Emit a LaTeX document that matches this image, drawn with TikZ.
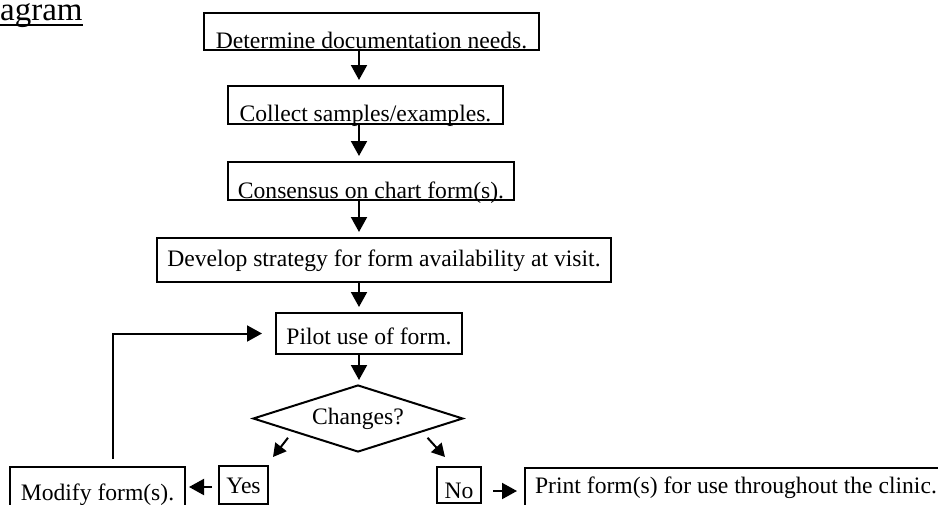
\documentclass[tikz,border=0pt]{standalone}
\usepackage{fontspec}
\setmainfont{Liberation Serif}
\usetikzlibrary{calc}
\usetikzlibrary{shapes.geometric}
\usetikzlibrary{arrows.meta}
\def\Spine{359}
\def\TextSize{\fontsize{23.6}{28}\selectfont}

\begin{document}
\begin{tikzpicture}[x=1pt,y=-1pt,
  stepbox/.style={draw, line width=2pt, inner xsep=0pt, inner ysep=0pt, anchor=north west, font=\TextSize},
  decision/.style={draw, diamond, aspect=3.13, line width=2pt, inner sep=0pt, font=\TextSize},
  flow/.style={line width=2pt, -{Triangle[length=15pt,width=16pt]}},
  small flow/.style={line width=2pt, -{Triangle[length=13pt,width=14pt]}}]
  \useasboundingbox (0,0) rectangle (938,504);
  \coordinate (spine) at (\Spine,0);
  % title
  \node[anchor=base west, inner sep=0pt, font=\fontsize{33}{40}\selectfont] (title) at (0,20) {agram};
  \draw[line width=2pt] ($(title.base west)+(0,5)$) -- ($(title.base east)+(0,5)$);
  % steps
  \node[stepbox, minimum width=335pt, text height=35pt, text depth=2pt] (needs) at (203,12) {Determine documentation needs.};
  \node[stepbox, minimum width=275pt, text height=35pt, text depth=3pt] (samples) at (227,85) {Collect samples/examples.};
  \node[stepbox, minimum width=286pt, text height=36pt, text depth=2pt] (consensus) at (227,161) {Consensus on chart form(s).};
  \node[stepbox, minimum width=454pt, text height=28pt, text depth=16pt] (strategy) at (156,237) {Develop strategy for form availability at visit.};
  \node[stepbox, minimum width=186pt, text height=31pt, text depth=10pt] (pilot) at (275,312) {Pilot use of form.};
  % decision
  \node[decision, minimum width=210pt, minimum height=67pt] (chg) at (358,418.5) {Changes?};
  \node[stepbox, minimum width=49pt, text height=27pt, text depth=11pt] (yes) at (218,465) {Yes};
  \node[stepbox, minimum width=44pt, text height=31pt, text depth=5pt] (no) at (436,466) {No};
  \node[stepbox, minimum width=175pt, text height=33pt, text depth=12pt] (modify) at (9,466) {Modify form(s).};
  \node[stepbox, minimum width=422pt, text height=25pt, text depth=16pt] (print) at (524,467) {Print form(s) for use throughout the clinic.};
  % main line
  \draw[flow, shorten >=5pt] (needs.south -| spine) -- (samples.north -| spine);
  \draw[flow, shorten >=5pt] (samples.south -| spine) -- (consensus.north -| spine);
  \draw[flow, shorten >=5pt] (consensus.south -| spine) -- (strategy.north -| spine);
  \draw[flow, shorten >=5pt] (strategy.south -| spine) -- (pilot.north -| spine);
  \draw[flow, shorten >=4pt] (pilot.south -| spine) -- (chg.north -| spine);
  % branches
  \draw[small flow] ($(chg.south west)+(-17,2)$) -- ($(yes.north east)+(4,-8)$);
  \draw[small flow] ($(chg.south east)+(16.5,2)$) -- ($(no.north west)+(9,-9)$);
  \draw[flow, shorten <=6pt, shorten >=3pt] ($(yes.west)+(0,2)$) -- ($(yes.west -| modify.east)+(0,2)$);
  \draw[flow, shorten <=11pt, shorten >=7pt] ($(no.east)+(0,6)$) -- ($(no.east -| print.west)+(0,6)$);
  % back to pilot
  \draw[flow, shorten >=13pt] ($(modify.north)+(15.5,-7)$) |- (pilot.west);
\end{tikzpicture}
\end{document}
